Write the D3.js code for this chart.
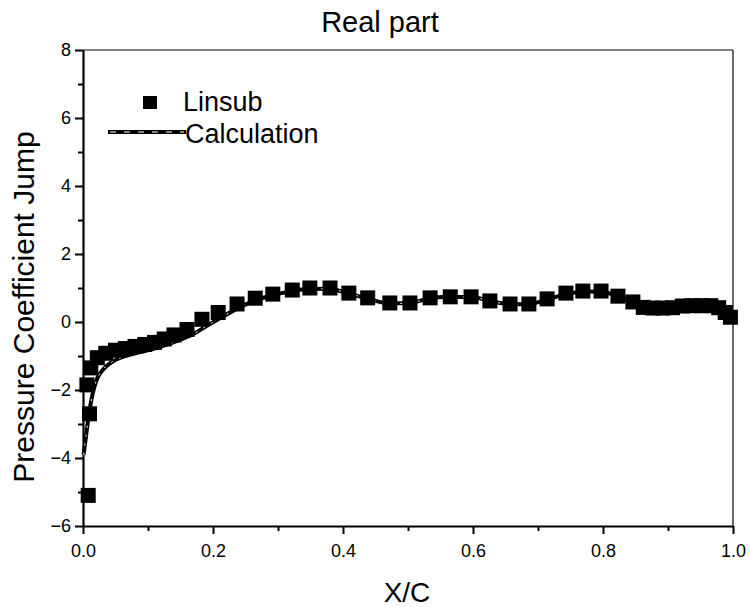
<!DOCTYPE html>
<html>
<head>
<meta charset="utf-8">
<script src="https://d3js.org/d3.v7.min.js"></script>
<style>
  body { margin: 0; background: #fff; }
  text { font-family: "Liberation Sans", Arial, sans-serif; fill: #000; }
</style>
</head>
<body>
<div id="chart"></div>
<script>

// Linsub measured points (x/c, pressure coefficient jump)
var linsub_x = [0.008, 0.010, 0.006, 0.012, 0.022, 0.035, 0.050, 0.065, 0.080, 0.095,
                0.110, 0.125, 0.140, 0.160, 0.183, 0.208, 0.237, 0.265, 0.292, 0.322,
                0.349, 0.380, 0.409, 0.438, 0.472, 0.503, 0.534, 0.565, 0.597, 0.626,
                0.657, 0.686, 0.714, 0.743, 0.769, 0.797, 0.823, 0.846, 0.862, 0.877,
                0.892, 0.907, 0.922, 0.937, 0.952, 0.966, 0.978, 0.988, 0.996];
var linsub_y = [-5.10, -2.70, -1.85, -1.35, -1.05, -0.92, -0.83, -0.78, -0.72, -0.66,
                -0.60, -0.50, -0.38, -0.22, 0.08, 0.28, 0.53, 0.70, 0.82, 0.94,
                1.00, 1.00, 0.85, 0.71, 0.56, 0.56, 0.71, 0.74, 0.74, 0.62,
                0.53, 0.53, 0.68, 0.85, 0.91, 0.91, 0.76, 0.59, 0.43, 0.41,
                0.41, 0.42, 0.47, 0.48, 0.48, 0.48, 0.42, 0.28, 0.14];

// calculated curve
var calc_x = [0.001, 0.005, 0.010, 0.015, 0.020, 0.030, 0.045, 0.065, 0.090, 0.120,
              0.150, 0.170, 0.190, 0.210, 0.230, 0.260, 0.290, 0.320, 0.350, 0.380,
              0.410, 0.440, 0.470, 0.500, 0.530, 0.560, 0.600, 0.630, 0.660, 0.690,
              0.720, 0.750, 0.780, 0.800, 0.830, 0.860, 0.900, 0.950, 0.980, 1.000];
var calc_y = [-3.90, -3.30, -2.60, -2.10, -1.75, -1.42, -1.17, -1.00, -0.88, -0.72,
              -0.52, -0.35, -0.12, 0.10, 0.32, 0.60, 0.78, 0.90, 0.98, 0.97,
              0.83, 0.68, 0.55, 0.55, 0.68, 0.74, 0.73, 0.60, 0.52, 0.54,
              0.70, 0.85, 0.90, 0.88, 0.70, 0.48, 0.42, 0.48, 0.40, 0.05];

// axis ticks
var x_ticks = [0, 0.2, 0.4, 0.6, 0.8, 1.0];
var x_minor = [0.1, 0.3, 0.5, 0.7, 0.9];
var y_ticks = [-6, -4, -2, 0, 2, 4, 6, 8];
var y_minor = [-5, -3, -1, 1, 3, 5, 7];

var series_names = ["Linsub", "Calculation"];

// plot area
var margin = {top: 50, right: 17, bottom: 81, left: 83},
    width = 750 - margin.left - margin.right,
    height = 607 - margin.top - margin.bottom;

var svg = d3.select("#chart").append("svg")
    .attr("width", 750)
    .attr("height", 607);

var g = svg.append("g")
    .attr("transform", "translate(" + margin.left + "," + margin.top + ")");

var x = d3.scaleLinear().domain([0, 1]).range([0, width]);
var y = d3.scaleLinear().domain([-6, 8]).range([height, 0]);

// top and right frame lines
g.append("line")
    .attr("x1", 0).attr("x2", width).attr("y1", 0).attr("y2", 0)
    .attr("stroke", "#000").attr("stroke-width", 1);
g.append("line")
    .attr("x1", width).attr("x2", width).attr("y1", 0).attr("y2", height)
    .attr("stroke", "#000").attr("stroke-width", 1.2);

// x axis, major and minor
g.append("g")
    .attr("transform", "translate(0," + height + ")")
    .call(d3.axisBottom(x).tickValues(x_ticks).tickFormat(d3.format(".1f"))
        .tickSizeInner(8).tickSizeOuter(0).tickPadding(10));
g.append("g")
    .attr("transform", "translate(0," + height + ")")
    .call(d3.axisBottom(x).tickValues(x_minor).tickFormat("").tickSizeInner(5).tickSizeOuter(0))
    .select(".domain").remove();

// y axis, major and minor
g.append("g")
    .call(d3.axisLeft(y).tickValues(y_ticks).tickFormat(d3.format("d"))
        .tickSizeInner(8).tickSizeOuter(0).tickPadding(4));
g.append("g")
    .call(d3.axisLeft(y).tickValues(y_minor).tickFormat("").tickSizeInner(5).tickSizeOuter(0))
    .select(".domain").remove();

g.selectAll(".domain").attr("stroke-width", 2.2);
g.selectAll(".tick line").attr("stroke-width", 2);
g.selectAll(".tick text")
    .style("font-size", "18px")
    .style("font-family", "'Liberation Sans', Arial, sans-serif");

// calculation curve: thick black with a faint white dotted core
var calc_data = calc_x.map(function(d, i){ return [d, calc_y[i]]; });
var curve = d3.line()
    .x(function(d){ return x(d[0]); })
    .y(function(d){ return y(d[1]); })
    .curve(d3.curveMonotoneX);

g.append("path")
    .datum(calc_data)
    .attr("d", curve)
    .attr("fill", "none")
    .attr("stroke", "#000")
    .attr("stroke-width", 4);
g.append("path")
    .datum(calc_data)
    .attr("d", curve)
    .attr("fill", "none")
    .attr("stroke", "#fff")
    .attr("stroke-width", 1)
    .attr("stroke-dasharray", "2,7");

// linsub squares
var sq = 15;
var lin_data = linsub_x.map(function(d, i){ return [d, linsub_y[i]]; });
g.selectAll(".linsub")
    .data(lin_data)
    .enter().append("rect")
    .attr("class", "linsub")
    .attr("x", function(d){ return x(d[0]) - sq / 2; })
    .attr("y", function(d){ return y(d[1]) - sq / 2; })
    .attr("width", sq)
    .attr("height", sq)
    .attr("fill", "#000");

// legend
var legend = svg.append("g");
legend.append("rect")
    .attr("x", 143).attr("y", 96).attr("width", 14).attr("height", 13)
    .attr("fill", "#000");
legend.append("text")
    .attr("x", 183).attr("y", 111)
    .style("font-size", "27px")
    .text(series_names[0]);
legend.append("line")
    .attr("x1", 108).attr("x2", 186).attr("y1", 132).attr("y2", 132)
    .attr("stroke", "#000").attr("stroke-width", 4);
legend.append("line")
    .attr("x1", 110).attr("x2", 184).attr("y1", 132).attr("y2", 132)
    .attr("stroke", "#fff").attr("stroke-width", 1).attr("stroke-dasharray", "6,8");
legend.append("text")
    .attr("x", 185).attr("y", 143)
    .style("font-size", "27px")
    .text(series_names[1]);

// title and axis labels
svg.append("text")
    .attr("x", 380).attr("y", 32)
    .attr("text-anchor", "middle")
    .style("font-size", "29px")
    .text("Real part");

svg.append("text")
    .attr("x", 407).attr("y", 602)
    .attr("text-anchor", "middle")
    .style("font-size", "28px")
    .text("X/C");

svg.append("text")
    .attr("transform", "translate(34,307) rotate(-90)")
    .attr("text-anchor", "middle")
    .style("font-size", "30px")
    .text("Pressure Coefficient Jump");

</script>
</body>
</html>
